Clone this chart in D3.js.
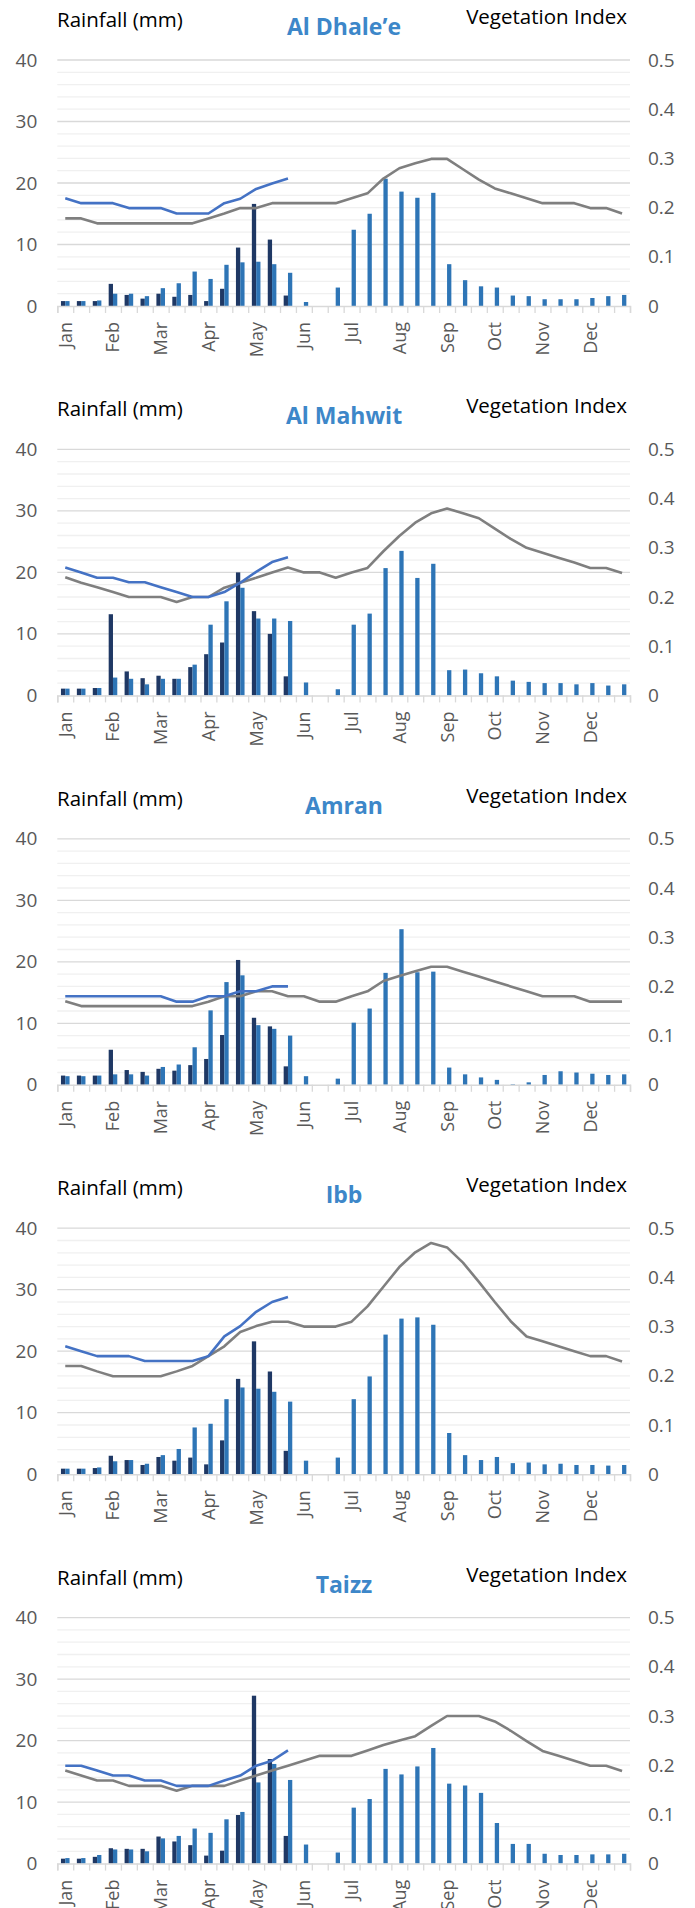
<!DOCTYPE html>
<html>
<head>
<meta charset="utf-8">
<script src="https://cdn.jsdelivr.net/npm/d3@7"></script>
<style>
html,body{margin:0;padding:0;background:#fff;}
svg{display:block;}
text{font-family:"Open Sans","Noto Sans",sans-serif;}
</style>
</head>
<body>
<svg id="chart" width="695" height="1908"></svg>
<script>
// ---- categories (dekads) and tick labels ----
const months = ["Jan","Feb","Mar","Apr","May","Jun","Jul","Aug","Sep","Oct","Nov","Dec"];
const dekads = months.flatMap(m => [m + "-1", m + "-2", m + "-3"]);
const rainTicks = [0, 10, 20, 30, 40];
const ndviTicks = [0, 0.1, 0.2, 0.3, 0.4, 0.5];
const regionNames = ["Al Dhale\u2019e", "Al Mahwit", "Amran", "Ibb", "Taizz"];

// ---- Al Dhale'e ----
const dhaleCurRain = [0.8,0.8,0.8,3.6,1.8,1.2,2.0,1.5,1.8,0.8,2.8,9.5,16.6,10.8,1.7];
const dhaleLtaRain = [0.8,0.8,0.9,2.0,2.0,1.6,2.9,3.7,5.6,4.4,6.7,7.1,7.2,6.8,5.4,0.65,0,3.0,12.4,15.0,20.7,18.6,17.6,18.4,6.8,4.2,3.2,3.0,1.7,1.6,1.1,1.1,1.1,1.3,1.6,1.8];
const dhaleCurNdvi = [0.219,0.209,0.209,0.209,0.199,0.199,0.199,0.188,0.188,0.188,0.209,0.218,0.238,0.249,0.259];
const dhaleLtaNdvi = [0.178,0.178,0.168,0.168,0.168,0.168,0.168,0.168,0.168,0.178,0.188,0.199,0.199,0.209,0.209,0.209,0.209,0.209,0.219,0.229,0.259,0.280,0.290,0.299,0.299,0.278,0.257,0.239,0.229,0.219,0.209,0.209,0.209,0.199,0.199,0.188];

// ---- Al Mahwit ----
const mahwitCurRain = [1.1,1.1,1.2,13.2,3.9,2.8,3.2,2.7,4.6,6.7,8.6,20.0,13.7,10.0,3.1];
const mahwitLtaRain = [1.1,1.1,1.2,2.9,2.7,1.8,2.7,2.7,5.0,11.5,15.3,17.5,12.5,12.5,12.1,2.1,0,1.0,11.5,13.3,20.7,23.5,19.1,21.4,4.1,4.2,3.6,3.1,2.4,2.2,2.0,2.0,1.8,2.0,1.6,1.8];
const mahwitCurNdvi = [0.260,0.250,0.239,0.239,0.230,0.230,0.220,0.210,0.200,0.200,0.210,0.229,0.251,0.271,0.281];
const mahwitLtaNdvi = [0.240,0.229,0.220,0.210,0.200,0.200,0.200,0.190,0.200,0.200,0.219,0.229,0.239,0.250,0.260,0.250,0.250,0.239,0.250,0.259,0.293,0.324,0.351,0.370,0.380,0.370,0.360,0.339,0.318,0.300,0.290,0.280,0.270,0.259,0.259,0.249];

// ---- Amran ----
const amranCurRain = [1.5,1.5,1.5,5.7,2.4,2.1,2.6,2.3,3.2,4.2,8.1,20.3,10.9,9.5,3.0];
const amranLtaRain = [1.4,1.4,1.5,1.7,1.7,1.5,2.9,3.3,6.1,12.1,16.7,17.8,9.7,9.1,8.0,1.4,0,1.0,10.1,12.4,18.2,25.3,18.3,18.4,2.8,1.7,1.2,0.8,0.1,0.4,1.6,2.2,2.0,1.8,1.6,1.7];
const amranCurNdvi = [0.180,0.180,0.180,0.180,0.180,0.180,0.180,0.169,0.169,0.180,0.180,0.190,0.190,0.200,0.200];
const amranLtaNdvi = [0.170,0.160,0.160,0.160,0.160,0.160,0.160,0.160,0.160,0.169,0.180,0.180,0.190,0.190,0.180,0.180,0.169,0.169,0.180,0.190,0.211,0.221,0.231,0.240,0.240,0.230,0.220,0.210,0.200,0.190,0.180,0.180,0.180,0.169,0.169,0.169];

// ---- Ibb ----
const ibbCurRain = [0.9,0.9,1.0,3.0,2.3,1.5,2.8,2.2,2.7,1.6,5.5,15.5,21.6,16.7,3.8];
const ibbLtaRain = [0.9,0.9,1.1,2.1,2.3,1.7,3.1,4.1,7.6,8.2,12.2,14.1,13.9,13.4,11.8,2.2,0,2.7,12.2,15.9,22.7,25.3,25.5,24.3,6.7,3.1,2.3,2.8,1.8,1.9,1.6,1.7,1.5,1.5,1.4,1.5];
const ibbCurNdvi = [0.260,0.250,0.240,0.240,0.240,0.230,0.230,0.230,0.230,0.240,0.280,0.301,0.330,0.350,0.360];
const ibbLtaNdvi = [0.220,0.220,0.209,0.199,0.199,0.199,0.199,0.209,0.220,0.240,0.260,0.289,0.301,0.310,0.310,0.300,0.300,0.300,0.310,0.341,0.381,0.421,0.451,0.470,0.461,0.430,0.391,0.350,0.311,0.280,0.270,0.260,0.250,0.240,0.240,0.229];

// ---- Taizz ----
const taizzCurRain = [0.8,0.8,1.1,2.5,2.4,2.4,4.4,3.6,3.0,1.3,2.1,7.9,27.3,17.0,4.5];
const taizzLtaRain = [0.9,0.9,1.4,2.3,2.3,2.0,4.1,4.5,5.7,5.0,7.2,8.4,13.2,16.2,13.6,3.1,0,1.8,9.1,10.5,15.4,14.5,15.8,18.8,13.0,12.7,11.5,6.6,3.2,3.2,1.6,1.4,1.4,1.5,1.5,1.6];
const taizzCurNdvi = [0.199,0.199,0.189,0.179,0.179,0.169,0.169,0.158,0.158,0.158,0.169,0.179,0.199,0.209,0.230];
const taizzLtaNdvi = [0.189,0.179,0.169,0.169,0.158,0.158,0.158,0.148,0.158,0.158,0.158,0.169,0.179,0.189,0.199,0.209,0.219,0.219,0.219,0.230,0.241,0.250,0.259,0.280,0.300,0.300,0.300,0.289,0.270,0.249,0.229,0.219,0.209,0.199,0.199,0.188];

const regions = [
  {name: regionNames[0], curRain: dhaleCurRain, ltaRain: dhaleLtaRain, curNdvi: dhaleCurNdvi, ltaNdvi: dhaleLtaNdvi},
  {name: regionNames[1], curRain: mahwitCurRain, ltaRain: mahwitLtaRain, curNdvi: mahwitCurNdvi, ltaNdvi: mahwitLtaNdvi},
  {name: regionNames[2], curRain: amranCurRain, ltaRain: amranLtaRain, curNdvi: amranCurNdvi, ltaNdvi: amranLtaNdvi},
  {name: regionNames[3], curRain: ibbCurRain, ltaRain: ibbLtaRain, curNdvi: ibbCurNdvi, ltaNdvi: ibbLtaNdvi},
  {name: regionNames[4], curRain: taizzCurRain, ltaRain: taizzLtaRain, curNdvi: taizzCurNdvi, ltaNdvi: taizzLtaNdvi}
];

// ---- layout ----
const svg = d3.select("#chart");
const panelStep = 389.4;
const xL = 57.3, xR = 630;
const plotTop = 60, plotBottom = 306;
const C = {dark:"#1f3864", light:"#2e75b6", blue:"#4472c4", gray:"#7f7f7f",
           title:"#3d87c9", tick:"#595959", grid:"#d9d9d9", minor:"#f0f0f0"};

const x = d3.scaleBand().domain(dekads).range([xL, xR]).paddingInner(0).paddingOuter(0);
const xSub = d3.scaleBand().domain(["cur","lta"]).range([0, x.bandwidth()]).paddingInner(0).paddingOuter(0.85);
const xEdge = d3.scaleLinear().domain([0, dekads.length]).range([xL, xR]);

regions.forEach((r, i) => {
  const T = i * panelStep;
  const g = svg.append("g").attr("transform", `translate(0,${T})`);
  const y = d3.scaleLinear().domain([0, 40]).range([plotBottom, plotTop]);
  const y2 = d3.scaleLinear().domain([0, 0.5]).range([plotBottom, plotTop]);

  // minor gridlines
  g.append("g").selectAll("line").data(d3.range(2, 40, 2).filter(v => v % 10 !== 0)).join("line")
    .attr("x1", xL).attr("x2", xR).attr("y1", d => y(d)).attr("y2", d => y(d))
    .attr("stroke", C.minor).attr("stroke-width", 1.3);
  // major gridlines
  g.append("g").selectAll("line").data(rainTicks.slice(1)).join("line")
    .attr("x1", xL).attr("x2", xR).attr("y1", d => y(d)).attr("y2", d => y(d))
    .attr("stroke", C.grid).attr("stroke-width", 1.3);

  // left axis labels
  const ya = g.append("g").attr("transform", `translate(${xL},0)`)
    .call(d3.axisLeft(y).tickValues(rainTicks).tickSize(0).tickPadding(20).tickFormat(d3.format("d")));
  ya.select(".domain").remove();
  ya.selectAll("text").attr("fill", C.tick).style("font-size", "19px");

  // right axis labels
  const yb = g.append("g").attr("transform", `translate(${xR},0)`)
    .call(d3.axisRight(y2).tickValues(ndviTicks).tickSize(0).tickPadding(18).tickFormat(d => d === 0 ? "0" : d3.format(".1f")(d)));
  yb.select(".domain").remove();
  yb.selectAll("text").attr("fill", C.tick).style("font-size", "19px");

  // bars: current year (dark) and long-term average (light)
  g.append("g").selectAll("rect").data(r.curRain.map((v, k) => ({k, v}))).join("rect")
    .attr("x", d => x(dekads[d.k]) + xSub("cur")).attr("width", xSub.bandwidth())
    .attr("y", d => y(d.v)).attr("height", d => y(0) - y(d.v)).attr("fill", C.dark);
  g.append("g").selectAll("rect").data(r.ltaRain.map((v, k) => ({k, v}))).join("rect")
    .attr("x", d => x(dekads[d.k]) + xSub("lta")).attr("width", xSub.bandwidth())
    .attr("y", d => y(d.v)).attr("height", d => y(0) - y(d.v)).attr("fill", C.light);

  // x axis line + ticks at category edges
  const xa = g.append("g").attr("transform", `translate(0,${plotBottom})`)
    .call(d3.axisBottom(xEdge).tickValues(d3.range(dekads.length + 1)).tickSize(7).tickFormat(""));
  xa.select(".domain").attr("stroke", C.grid).attr("stroke-width", 1.5);
  xa.selectAll(".tick line").attr("stroke", C.grid).attr("stroke-width", 1.3);

  // month labels (rotated)
  const xl = g.append("g").attr("transform", `translate(0,${plotBottom})`)
    .call(d3.axisBottom(x).tickValues(dekads.filter((d, k) => k % 3 === 0)).tickSize(0).tickFormat(d => d.slice(0, 3)));
  xl.select(".domain").remove();
  xl.selectAll("text").attr("fill", C.tick).style("font-size", "18px")
    .attr("transform", "rotate(-90)").attr("text-anchor", "end")
    .attr("x", -16).attr("y", 0).attr("dy", "0.36em");

  // NDVI lines
  const line = d3.line().x((d, k) => x(dekads[k]) + x.bandwidth() / 2).y(d => y2(d));
  g.append("path").datum(r.ltaNdvi).attr("d", line).attr("fill", "none")
    .attr("stroke", C.gray).attr("stroke-width", 2.6).attr("stroke-linejoin", "round");
  g.append("path").datum(r.curNdvi).attr("d", line).attr("fill", "none")
    .attr("stroke", C.blue).attr("stroke-width", 2.6).attr("stroke-linejoin", "round");

  // texts
  g.append("text").attr("x", 57).attr("y", 27).attr("fill", "#000").style("font-size", "20.5px").text("Rainfall (mm)");
  g.append("text").attr("x", 627).attr("y", 24).attr("text-anchor", "end").attr("fill", "#000").style("font-size", "20.5px").text("Vegetation Index");
  g.append("text").attr("x", 344).attr("y", 35).attr("text-anchor", "middle").attr("fill", C.title)
    .style("font-size", "23px").style("font-weight", "bold").text(r.name);
});
</script>
</body>
</html>
